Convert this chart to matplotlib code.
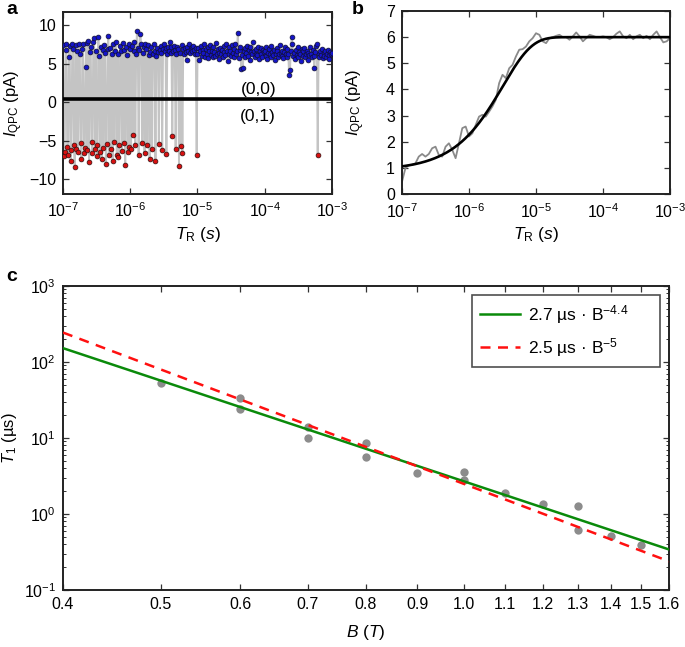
import numpy as np
import matplotlib
matplotlib.use("Agg")
import matplotlib.pyplot as plt
from matplotlib.ticker import FixedLocator, LogLocator, NullLocator, FuncFormatter

plt.rcParams['font.family'] = ['Liberation Sans', 'DejaVu Sans']
plt.rcParams['mathtext.fontset'] = 'custom'
plt.rcParams['mathtext.rm'] = 'Liberation Sans'
plt.rcParams['mathtext.it'] = 'Liberation Sans:italic'
plt.rcParams['mathtext.bf'] = 'Liberation Sans:bold'
plt.rcParams['font.size'] = 10

# ---------------- data: panel a (single-shot readout trace) ----------------
trace_log_start = -7
trace_log_stop = -3
trace_dec1 = [7.4, -7.0, -6.5, 6.8, 7.5, -5.8, -6.9, 5.8, 7.3, -7.6,
              -6.2, 7.5, 6.9, -5.5, -8.4, 7.4, -6.0, 6.6, -6.4, 7.6,
              6.2, -5.3, -7.3, 6.9, 7.5, -6.6, -5.9, 4.6, 7.7, -6.2,
              8.0, -7.7, 6.5, 7.2, -5.2, -6.6, 7.8, 8.3, -6.1, 6.7,
              -5.6, -7.0, 8.5, 6.0, -6.4, 7.1, -7.4, 6.8, -5.9, 7.4,
              6.4, -8.0, -5.4, 6.9, 8.6, -6.8, 7.0, -6.0, 6.3, -7.6,
              7.5, -5.1, 6.7, 7.8, -6.9, 6.2, -7.1, -5.6, 7.3, 6.6,
              -6.3, 7.7, -5.3, 6.8, -8.1, 7.2, 6.1, -6.5, 7.6, -5.8]
trace_dec2 = [6.9, -6.1, 7.3, -4.3, 6.6, 7.8, -5.6, 6.2, 9.2, 7.0,
              -6.9, 6.8, 8.8, 7.5, -5.3, 6.4, 7.2, -6.6, 7.6, 6.9,
              -5.5, 7.4, 6.1, -7.3, 6.5, 7.1, -6.0, 6.3, 7.6, 6.7,
              -7.6, 6.0, 7.0, 6.5, -5.4, 6.8, 7.3, 6.4, -6.2, 6.9,
              7.5, 6.6, 7.0, -6.7, 6.2, 7.2, 6.7, 7.8, 6.4, 7.1,
              -4.4, 6.6, 7.3, 6.8, -6.0, 6.3, 7.1, 6.9, -8.3, 6.4,
              -5.7, 7.4, -6.6, 6.9, 6.3, 7.0, 6.5, 5.5, 7.2, 6.7,
              7.6, 6.4, 6.9, 7.1, 6.6, 7.3, 6.8, 6.2, 7.0, -6.9]
trace_dec3 = [6.2, 7.0, 5.5, 6.6, 7.3, 6.0, 6.8, 6.4, 7.6, 5.9,
              6.9, 6.3, 7.1, 5.7, 6.6, 7.4, 6.1, 6.7, 5.8, 7.2,
              6.5, 6.0, 7.7, 6.3, 6.9, 5.6, 6.4, 7.0, 6.2, 6.8,
              5.9, 7.3, 6.5, 6.1, 7.5, 6.7, 5.4, 6.3, 7.1, 6.6,
              6.0, 7.4, 6.4, 5.8, 6.9, 7.6, 6.2, 6.7, 9.0, 5.7,
              6.8, 7.2, 4.3, 6.1, 4.5, 6.6, 7.0, 5.9, 6.4, 7.3,
              6.0, 6.8, 5.5, 7.1, 6.5, 6.2, 7.8, 6.7, 5.8, 6.3,
              6.9, 6.1, 7.2, 5.6, 6.6, 7.0, 6.3, 5.9, 6.8, 6.5]
trace_dec4 = [6.7, 6.0, 7.1, 5.6, 6.4, 6.9, 6.2, 5.8, 7.3, 6.5,
              6.1, 6.8, 5.5, 6.3, 7.0, 6.6, 5.9, 6.2, 7.4, 6.4,
              6.0, 6.7, 5.7, 6.5, 7.1, 6.2, 5.8, 6.9, 6.3, 3.5,
              4.2, 6.6, 8.5, 7.6, 6.0, 6.4, 5.6, 6.8, 6.1, 7.2,
              5.9, 6.5, 6.3, 5.4, 6.9, 6.0, 6.6, 7.0, 5.8, 6.2,
              6.7, 5.5, 6.4, 6.1, 7.1, 6.3, 5.9, 6.8, 6.0, 4.4,
              6.5, 7.3, 7.6, -6.9, 6.2, 5.8, 6.6, 6.1, 6.9, 5.7,
              6.4, 6.0, 6.7, 5.9, 6.3, 6.8, 6.1, 5.6, 6.5, 6.2, 6.4]
threshold = 0.4

# ---------------- data: panel b (averaged signal) ----------------
avg_log_start = -7
avg_log_stop = -3
avg_current = [0.47, 0.98, 1.11, 1.11, 1.17, 1.43, 1.53, 1.43, 1.53, 1.75,
               1.81, 1.49, 1.43, 1.81, 1.94, 1.69, 1.37, 1.94, 2.52, 2.58,
               2.20, 2.32, 2.64, 2.96, 3.03, 2.96, 3.15, 3.35, 3.60, 4.24,
               4.56, 4.43, 4.81, 4.94, 5.26, 5.52, 5.54, 5.64, 5.84, 5.96,
               6.15, 6.09, 5.84, 5.77, 5.96, 6.00, 6.05, 6.09, 6.00, 6.00,
               5.90, 6.03, 6.18, 6.03, 5.84, 5.96, 6.09, 6.05, 6.00, 6.00,
               6.03, 6.00, 5.92, 6.00, 6.13, 6.22, 6.03, 5.96, 6.09, 5.92,
               6.03, 6.09, 5.96, 6.05, 5.92, 6.09, 6.22, 6.00, 5.80, 5.84, 5.96]
fit_b_sat = 6.0       # pA
fit_b_amp = 5.1       # pA
fit_b_tau = 3.2e-6    # s

# ---------------- data: panel c (T1 vs B) ----------------
B_field = [0.5, 0.6, 0.6, 0.7, 0.7, 0.8, 0.8, 0.9, 1.0, 1.0,
           1.1, 1.2, 1.3, 1.3, 1.4, 1.5]
T1_us = [53.4, 33.9, 23.8, 14.0, 10.1, 8.5, 5.7, 3.43, 3.57, 2.8,
         1.87, 1.35, 1.27, 0.62, 0.51, 0.39]
fit1_pref, fit1_exp = 2.7, -4.4
fit2_pref, fit2_exp = 2.5, -5.0
c_xticks = [0.4, 0.5, 0.6, 0.7, 0.8, 0.9, 1.0, 1.1, 1.2, 1.3, 1.4, 1.5, 1.6]

# ---------------- figure ----------------
W, H = 685, 647
fig = plt.figure(figsize=(W / 100, H / 100), dpi=100)


def rect(l, t, r, b):
    return [l / W, 1 - b / H, (r - l) / W, (b - t) / H]


ax_a = fig.add_axes(rect(63, 12, 332, 194))
ax_b = fig.add_axes(rect(402, 11, 670, 194))
ax_c = fig.add_axes(rect(63, 286, 669, 590))

for ax in (ax_a, ax_b, ax_c):
    for s in ax.spines.values():
        s.set_linewidth(1.4)
        s.set_color('#222222')
    ax.tick_params(which='both', direction='in', top=True, right=True,
                   labelsize=11.5, color='#333333')
    ax.tick_params(which='major', length=4, width=0.9, pad=5)
    ax.tick_params(which='minor', length=2.5, width=0.7)

# panel a
trace = np.array(trace_dec1 + trace_dec2 + trace_dec3 + trace_dec4)
t = np.logspace(trace_log_start, trace_log_stop, len(trace))
ax_a.plot(t, trace, color='#c4c4c4', lw=1.4, zorder=1)
hi = trace > threshold
ax_a.scatter(t[hi], trace[hi], s=12, c='#1515c8', edgecolors='#101030',
             linewidths=0.5, zorder=3)
ax_a.scatter(t[~hi], trace[~hi], s=12, c='#d81010', edgecolors='#301010',
             linewidths=0.5, zorder=3)
ax_a.axhline(threshold, color='black', lw=2.6, zorder=4)
ax_a.set_xscale('log')
ax_a.set_xlim(10.0 ** trace_log_start, 10.0 ** trace_log_stop)
ax_a.set_ylim(-11.9, 11.7)
ax_a.set_yticks([-10, -5, 0, 5, 10])
ax_a.set_yticklabels(['\u221210', '\u22125', '0', '5', '10'])
ax_a.xaxis.set_major_locator(LogLocator(base=10, numticks=10))
ax_a.xaxis.set_minor_locator(NullLocator())
ax_a.text(8e-5, 1.6, '(0,0)', fontsize=12.5, ha='center', va='center')
ax_a.text(8e-5, -1.8, '(0,1)', fontsize=12.5, ha='center', va='center')
ax_a.set_xlabel(r'$T_{\mathrm{R}}$ ($s$)', fontsize=12.5, labelpad=4)
ax_a.set_ylabel(r'$I_{\mathrm{QPC}}$ (pA)', fontsize=12)
ax_a.yaxis.set_label_coords(-0.142, 0.5)

# panel b
ta = np.logspace(avg_log_start, avg_log_stop, len(avg_current))
ax_b.plot(ta, avg_current, color='#8a8a8a', lw=1.3, zorder=2)
tf = np.logspace(avg_log_start, avg_log_stop, 400)
ax_b.plot(tf, fit_b_sat - fit_b_amp * np.exp(-tf / fit_b_tau), color='black',
          lw=1.9, zorder=3)
ax_b.set_xscale('log')
ax_b.set_xlim(10.0 ** avg_log_start, 10.0 ** avg_log_stop)
ax_b.set_ylim(0, 7)
ax_b.set_yticks(range(0, 8))
ax_b.xaxis.set_major_locator(LogLocator(base=10, numticks=10))
ax_b.xaxis.set_minor_locator(NullLocator())
ax_b.tick_params(axis='x', which='major', pad=6)
ax_b.set_xlabel(r'$T_{\mathrm{R}}$ ($s$)', fontsize=12.5, labelpad=3)
ax_b.set_ylabel(r'$I_{\mathrm{QPC}}$ (pA)', fontsize=12)
ax_b.yaxis.set_label_coords(-0.13, 0.5)

# panel c
ax_c.plot(B_field, T1_us, 'o', color='#8c8c8c', ms=6, mec='none', zorder=2)
bf = np.linspace(c_xticks[0], c_xticks[-1], 200)
ax_c.plot(bf, fit1_pref * bf ** fit1_exp, color='#0a8a0a', lw=1.8, zorder=3,
          label='2.7 \u00b5s \u00b7 B$^{-4.4}$')
ax_c.plot(bf, fit2_pref * bf ** fit2_exp, color='#ff1010', lw=1.8, zorder=4,
          dashes=(4, 3), label='2.5 \u00b5s \u00b7 B$^{-5}$')
ax_c.set_xscale('log')
ax_c.set_yscale('log')
ax_c.set_xlim(c_xticks[0], c_xticks[-1])
ax_c.set_ylim(0.1, 1000)
ax_c.xaxis.set_major_locator(FixedLocator(c_xticks))
ax_c.xaxis.set_minor_locator(NullLocator())
ax_c.xaxis.set_major_formatter(FuncFormatter(lambda v, p: f'{v:.1f}'))
ax_c.yaxis.set_major_locator(LogLocator(base=10, numticks=10))
ax_c.yaxis.set_minor_locator(LogLocator(base=10, subs=np.arange(2, 10), numticks=10))
ax_c.set_xlabel(r'$B$ ($T$)', fontsize=12.5, labelpad=8)
ax_c.set_ylabel('$T_{\\mathrm{1}}$ (\u00b5s)', fontsize=12)
ax_c.yaxis.set_label_coords(-0.072, 0.5)
leg = ax_c.legend(loc='upper left', fontsize=12.5, frameon=True, fancybox=False,
                  edgecolor='#222222', handlelength=2.3, borderpad=0.45,
                  labelspacing=0.6, handletextpad=0.5, borderaxespad=0,
                  mode='expand',
                  bbox_to_anchor=(0.675, 0.5, 0.31, 0.47))
leg.get_frame().set_linewidth(1.2)

# panel letters
fig.text(6 / W, 1 - 9 / H, 'a', fontsize=14, fontweight='bold', va='center', ha='left')
fig.text(352 / W, 1 - 9 / H, 'b', fontsize=14, fontweight='bold', va='center', ha='left')
fig.text(6 / W, 1 - 276 / H, 'c', fontsize=14, fontweight='bold', va='center', ha='left')

fig.savefig('out.png', dpi=100)
